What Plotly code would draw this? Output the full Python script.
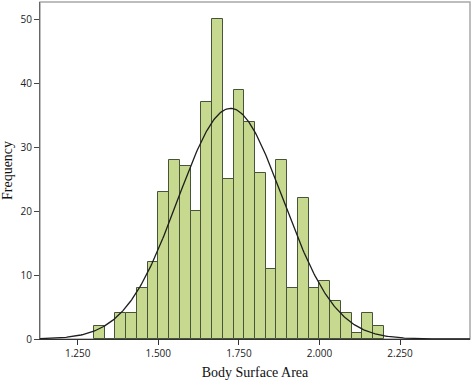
import numpy as np
import plotly.graph_objects as go

# ---- data ----
bin_start = 1.30
bin_width = 1.0 / 30.0
counts = [2, 0, 4, 4, 8, 12, 23, 28, 27, 20, 37, 50, 25, 39, 34, 26, 11, 28, 8, 22,
          8, 9, 6, 4, 1, 4, 2]
x_tick_vals = [1.25, 1.50, 1.75, 2.00, 2.25]
x_tick_text = ["1.250", "1.500", "1.750", "2.000", "2.250"]
y_tick_vals = [0, 10, 20, 30, 40, 50]
# fitted normal curve parameters
curve_mean = 1.724
curve_sd = 0.163

x_range = [1.133, 2.467]
y_range = [0, 52.7]

centers = [bin_start + (i + 0.5) * bin_width for i in range(len(counts))]
n_total = sum(counts)

xs = np.linspace(x_range[0], x_range[1], 400)
ys = n_total * bin_width / (curve_sd * np.sqrt(2 * np.pi)) * np.exp(-0.5 * ((xs - curve_mean) / curve_sd) ** 2)

fig = go.Figure()
fig.add_trace(go.Bar(
    x=centers, y=counts, width=bin_width,
    marker=dict(color="#c6d98f", line=dict(color="#46543a", width=1)),
    hoverinfo="x+y", showlegend=False,
))
fig.add_trace(go.Scatter(
    x=xs, y=ys, mode="lines", line=dict(color="#1e1e1e", width=1.3),
    hoverinfo="skip", showlegend=False,
))

fig.add_shape(type="rect", xref="paper", yref="paper", x0=0, x1=1, y0=0, y1=1,
              line=dict(color="#a8a8a8", width=1.5), layer="below")

fig.update_layout(
    width=472, height=382,
    margin=dict(l=40, r=2, t=2, b=43),
    paper_bgcolor="white", plot_bgcolor="white",
    bargap=0,
    font=dict(family="Open Sans", size=10, color="#222"),
)
fig.update_xaxes(
    range=x_range, tickvals=x_tick_vals, ticktext=x_tick_text,
    showgrid=False, zeroline=False, showline=True, linecolor="#333", linewidth=1.2,
    ticks="outside", ticklen=5, tickcolor="#333",
    title=dict(text="Body Surface Area", font=dict(family="Liberation Serif", size=14, color="#111"), standoff=8),
)
fig.update_yaxes(
    range=y_range, tickvals=y_tick_vals,
    showgrid=False, zeroline=False, showline=True, linecolor="#666", linewidth=1.2,
    ticks="outside", ticklen=5, tickcolor="#444",
    title=dict(text="Frequency", font=dict(family="Liberation Serif", size=14, color="#111"), standoff=8),
)

fig.write_html("out.html", config={"displayModeBar": False},
               post_script="document.body.style.margin='0';document.body.style.padding='0';")
